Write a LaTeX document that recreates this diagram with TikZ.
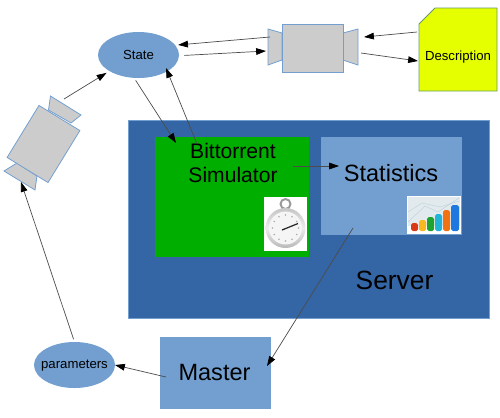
\documentclass[tikz,border=0pt]{standalone}
\usepackage{fontspec}
\setmainfont{Liberation Sans}
\usetikzlibrary{arrows.meta,shapes.geometric}
\definecolor{darkblue}{HTML}{3465A4}
\definecolor{lightblue}{HTML}{729FCF}
\definecolor{simgreen}{HTML}{00AE00}
\definecolor{descyellow}{HTML}{E6FF00}
\definecolor{camgrey}{HTML}{CCCCCC}
\definecolor{barred}{HTML}{D83A18}
\definecolor{baryellow}{HTML}{F8B820}
\definecolor{bargreen}{HTML}{1FA32F}
\definecolor{barcyan}{HTML}{22B4D8}
\definecolor{barorange}{HTML}{F07212}
\definecolor{barblue}{HTML}{1F78E0}
\tikzset{
  box/.style={rectangle, inner sep=0pt, outer sep=0pt, draw=lightblue, line width=0.4pt},
  oval/.style={ellipse, inner sep=0pt, outer sep=0pt, fill=lightblue, minimum width=16.2mm, minimum height=9.2mm},
  campart/.style={draw=lightblue, fill=camgrey, line width=0.45pt},
  conn/.style={-{Triangle[length=5.6pt,width=3.8pt,fill=black,color=black]}, draw=black!70, line width=0.4pt},
  smalltext/.style={font=\fontsize{7.5}{9}\selectfont},
  bigtext/.style={font=\fontsize{13.4}{16}\selectfont}
}

\begin{document}
\begin{tikzpicture}[x=0.2mm,y=-0.2mm]
  \useasboundingbox (0,0) rectangle (500,417);
  % server and the boxes in it
  \node[box, fill=darkblue, minimum width=72.2mm, minimum height=39.6mm] (server) at (308.5,219) {};
  \node[rectangle, inner sep=0pt, fill=simgreen, minimum width=30.8mm, minimum height=24mm] (sim) at (232,197) {};
  \node[rectangle, inner sep=0pt, fill=lightblue, minimum width=28.2mm, minimum height=19.6mm] (stats) at (391.5,186) {};
  \node[align=center, inner sep=0pt, font=\fontsize{12}{13.2}\selectfont] (simlabel) at (233,163) {Bittorrent\\Simulator};
  \node[bigtext, inner sep=0pt] (statslabel) at (391,173) {Statistics};
  \node[inner sep=0pt, font=\fontsize{15}{18}\selectfont] (serverlabel) at (394.5,280) {Server};
  % stopwatch
  \node[rectangle, inner sep=0pt, fill=white, minimum width=8.6mm, minimum height=10.8mm] (watch) at (285.5,224) {};
  \draw[gray!80, line width=1.1pt] (285.5,204) circle [radius=5];
  \fill[gray!55] (283,208) rectangle (288,212);
  \shade[top color=gray!45, bottom color=gray!55, middle color=gray!15] (285.5,228) circle [radius=20];
  \fill[gray!8] (285.5,228) circle [radius=16.5];
  \foreach \a in {0,30,...,330}
    \fill[gray!65] (285.5,228) ++(\a:13) circle [radius=0.9];
  \draw[black!85, line width=0.7pt] (282,230) -- (298,223.5);
  % chart
  \node[rectangle, inner sep=0pt, fill=white, minimum width=10.9mm, minimum height=7.7mm] (chart) at (433.8,215) {};
  \fill[cyan!25!gray!20] (408,197) rectangle (460,226);
  \draw[cyan!40!gray!50, line width=0.2pt] (408,222) -- (425,206) -- (438,212) -- (459,198);
  \draw[cyan!40!gray!50, line width=0.2pt] (408,212) -- (422,203) -- (440,207) -- (459,201);
  \foreach \xa/\xb/\ytop/\col in {411/418/223/barred, 419/426/220/baryellow, 427/434/217/bargreen, 435/442/214/barcyan, 443/450/210/barorange, 451/459/205/barblue}
    \fill[\col, rounded corners=1pt] (\xa,\ytop) rectangle (\xb,231);
  % master and the parameters
  \node[box, fill=lightblue, minimum width=22mm, minimum height=14.2mm] (master) at (215,372.5) {};
  \node[bigtext, inner sep=0pt] (masterlabel) at (214.5,373) {Master};
  \node[oval] (state) at (138.5,55) {};
  \node[smalltext, inner sep=0pt] (statelabel) at (138.5,55) {State};
  \node[oval] (params) at (74.5,365) {};
  \node[smalltext, inner sep=0pt] (paramslabel) at (74.5,365.5) {parameters};
  % description
  \node[rectangle, inner sep=0pt, outer sep=0pt, minimum width=15.6mm, minimum height=16.6mm] (desc) at (458,49.5) {};
  \draw[draw=gray!80!green, fill=descyellow, line width=0.5pt] (desc.north east) -- (435,8) -- (419,24) -- (desc.south west) -- (desc.south east) -- cycle;
  \node[smalltext, inner sep=0pt] (desclabel) at (458,57.5) {Description};
  % top camera
  \draw[campart] (282,33) -- (268,29) -- (268,65) -- (282,60) -- cycle;
  \draw[campart] (343,33) -- (358,29) -- (358,65) -- (343,60) -- cycle;
  \node[box, campart, minimum width=12.2mm, minimum height=9.6mm] (camtop) at (312.5,48) {};
  % left camera
  \draw[campart] (48.5,110) -- (50.5,96) -- (81,115) -- (71,123) -- cycle;
  \draw[campart] (17,163) -- (4,171) -- (35,190) -- (37,176) -- cycle;
  \node[box, campart, rotate=-31.5, minimum width=9.6mm, minimum height=12.2mm] (camleft) at (43.5,144) {};
  % free ends
  \coordinate (camleftin) at (21,182);
  \coordinate (camleftout) at (64,99);
  \coordinate (camtopin) at (364,37);
  \coordinate (camtopinl) at (266,51);
  \coordinate (camtopout) at (361,53);
  \coordinate (camtopoutl) at (270,37);
  \coordinate (descin) at (418,61);
  \coordinate (descout) at (417,32);
  \coordinate (simin) at (176,143);
  \coordinate (simout) at (197,144);
  \coordinate (simright) at (293,166);
  \coordinate (statsin) at (339,166);
  \coordinate (statsout) at (353,228);
  \coordinate (masterin) at (267,366);
  \coordinate (masterout) at (166,377);
  \coordinate (statein) at (166,68);
  % connectors
  \draw[conn, shorten >=0.7mm] (camleftout) -- (state.209.4);
  \draw[conn, shorten >=0.6mm] (camtopoutl) -- (state.15.7);
  \draw[conn, shorten <=1.1mm] (state.-1) -- (camtopinl);
  \draw[conn] (descout) -- (camtopin);
  \draw[conn] (camtopout) -- (descin);
  \draw[conn, shorten <=0.6mm] (state.-101) -- (simin);
  \draw[conn] (simout) -- (statein);
  \draw[conn] (simright) -- (statsin);
  \draw[conn] (statsout) -- (masterin);
  \draw[conn] (masterout) -- (params.east);
  \draw[conn, shorten <=0.6mm] (params.north) -- (camleftin);
\end{tikzpicture}
\end{document}
